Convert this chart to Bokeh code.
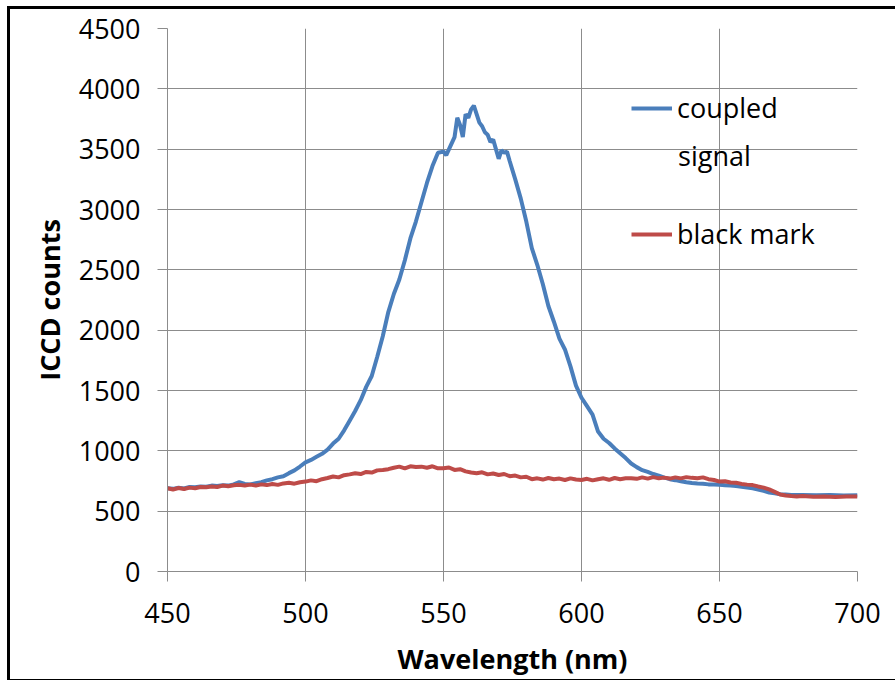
from bokeh.plotting import figure
from bokeh.models import FixedTicker, Legend, LegendItem, Range1d, Label
from bokeh.embed import file_html
from bokeh.resources import INLINE

# ---- data ----
coupled_nm = [450, 452, 454, 456, 458, 460, 462, 464, 466, 468, 470, 472, 474, 476, 478,
              480, 482, 484, 486, 488, 490, 492, 494, 496, 498, 500, 502, 504, 506, 508,
              510, 512, 514, 516, 518, 520, 522, 524, 526, 528, 530, 532, 534, 536, 538,
              540, 542, 544, 546, 548, 550, 551, 552, 554, 555, 556, 557, 558, 559, 560,
              561, 562, 563, 564, 565, 566, 567, 568, 569, 570, 571, 572, 573, 574, 576,
              578, 580, 582, 584, 586, 588, 590, 592, 594, 596, 598, 600, 602, 604, 606,
              608, 610, 612, 614, 616, 618, 620, 622, 624, 626, 628, 630, 632, 634, 636,
              638, 640, 642, 644, 646, 648, 650, 652, 654, 656, 658, 660, 662, 664, 666,
              668, 670, 672, 674, 676, 680, 685, 690, 695, 700]
coupled_counts = [690, 685, 695, 688, 700, 698, 705, 702, 712, 708, 715, 712, 722, 740, 725,
                  722, 732, 740, 755, 765, 780, 790, 815, 838, 870, 905, 925, 950, 975, 1010,
                  1060, 1100, 1170, 1250, 1330, 1420, 1530, 1620, 1780, 1950, 2150, 2300, 2420, 2580, 2760,
                  2900, 3060, 3220, 3360, 3470, 3480, 3450, 3500, 3600, 3760, 3700, 3600, 3790, 3760, 3830,
                  3860, 3790, 3720, 3690, 3640, 3620, 3560, 3580, 3500, 3420, 3490, 3470, 3480, 3400, 3250,
                  3090, 2900, 2680, 2540, 2380, 2200, 2070, 1930, 1840, 1700, 1540, 1440, 1370, 1300, 1160,
                  1100, 1065, 1020, 980, 940, 895, 865, 840, 825, 808, 795, 778, 765, 757, 748,
                  740, 734, 730, 728, 722, 720, 718, 715, 712, 708, 702, 695, 690, 680, 668,
                  655, 648, 640, 638, 635, 635, 632, 634, 630, 632]

black_nm = [450, 452, 454, 456, 458, 460, 462, 464, 466, 468, 470, 472, 474, 476, 478,
            480, 482, 484, 486, 488, 490, 492, 494, 496, 498, 500, 502, 504, 506, 508,
            510, 512, 514, 516, 518, 520, 522, 524, 526, 528, 530, 532, 534, 536, 538,
            540, 542, 544, 546, 548, 550, 552, 554, 556, 558, 560, 562, 564, 566, 568,
            570, 572, 574, 576, 578, 580, 582, 584, 586, 588, 590, 592, 594, 596, 598,
            600, 602, 604, 606, 608, 610, 612, 614, 616, 618, 620, 622, 624, 626, 628,
            630, 632, 634, 636, 638, 640, 642, 644, 646, 648, 650, 652, 654, 656, 658,
            660, 662, 664, 666, 668, 670, 672, 674, 676, 678, 680, 684, 688, 692, 696, 700]
black_counts = [690, 680, 692, 684, 695, 690, 700, 698, 705, 700, 712, 706, 715, 718, 712,
                720, 712, 722, 716, 725, 718, 730, 735, 728, 740, 745, 755, 748, 765, 775,
                787, 780, 798, 805, 814, 808, 825, 820, 838, 842, 848, 860, 869, 855, 872,
                866, 869, 860, 872, 855, 856, 862, 842, 848, 830, 820, 814, 822, 805, 812,
                800, 808, 790, 795, 780, 785, 765, 772, 762, 775, 765, 770, 758, 772, 762,
                759, 768, 755, 765, 772, 760, 775, 765, 772, 773, 768, 780, 770, 782, 772,
                778, 770, 780, 772, 782, 776, 773, 780, 765, 758, 745, 748, 738, 735, 726,
                720, 716, 705, 695, 680, 660, 638, 630, 625, 622, 625, 620, 622, 618, 622, 621]

x_ticks = [450, 500, 550, 600, 650, 700]
y_ticks = [0, 500, 1000, 1500, 2000, 2500, 3000, 3500, 4000, 4500]
x_title = "Wavelength (nm)"
y_title = "ICCD counts"
legend_first = ["coupled", "black mark"]
legend_second_line = "signal"

BLUE = "#4A7EBB"
RED = "#BE4B48"
GRID = "#8C8C8C"
FONT = "Open Sans"
FS = "27px"

p = figure(width=885, height=670, output_backend="svg", toolbar_location=None,
           x_range=Range1d(450, 700), y_range=Range1d(0, 4500),
           frame_width=690, frame_height=543,
           min_border_left=157, min_border_right=38, min_border_top=19, min_border_bottom=108)
p.styles = {"margin-left": "7px", "margin-top": "6px",
            "border-left": "3px solid black", "border-top": "3px solid black",
            "border-bottom": "3px solid black"}

l1 = p.line(coupled_nm, coupled_counts, line_color=BLUE, line_width=4)
l2 = p.line(black_nm, black_counts, line_color=RED, line_width=4)

p.xaxis.ticker = FixedTicker(ticks=x_ticks)
p.yaxis.ticker = FixedTicker(ticks=y_ticks)
p.xgrid.ticker = FixedTicker(ticks=x_ticks)
p.ygrid.ticker = FixedTicker(ticks=y_ticks)

for ax in (p.xaxis[0], p.yaxis[0]):
    ax.axis_line_color = GRID
    ax.major_tick_line_color = GRID
    ax.major_tick_in = 0
    ax.major_tick_out = 10
    ax.minor_tick_line_color = None
    ax.major_label_text_font = FONT
    ax.major_label_text_font_size = FS
    ax.major_label_text_color = "black"
    ax.axis_label_text_font = FONT
    ax.axis_label_text_font_size = FS
    ax.axis_label_text_font_style = "bold"
    ax.axis_label_text_color = "black"

p.xaxis.axis_label = x_title
p.yaxis.axis_label = y_title
p.xaxis.major_label_standoff = 21
p.yaxis.major_label_standoff = 17
p.xaxis.axis_label_standoff = 14
p.yaxis.axis_label_standoff = 8

p.xgrid.grid_line_color = GRID
p.ygrid.grid_line_color = GRID
p.outline_line_color = None
p.background_fill_color = "white"
p.border_fill_color = "white"

legend = Legend(items=[LegendItem(label=legend_first[0], renderers=[l1]),
                       LegendItem(label=legend_first[1], renderers=[l2])],
                location=(464, 319), orientation="vertical",
                label_text_font=FONT, label_text_font_size=FS, label_text_color="black",
                glyph_width=41, glyph_height=20, label_standoff=5,
                spacing=89, padding=0, margin=0,
                border_line_color=None, background_fill_alpha=0)
p.add_layout(legend)

second = Label(x=635, y=3450, text=legend_second_line, text_font=FONT,
               text_font_size=FS, text_color="black", text_baseline="alphabetic")
p.add_layout(second)

open("out.html", "w").write(file_html(p, INLINE))
